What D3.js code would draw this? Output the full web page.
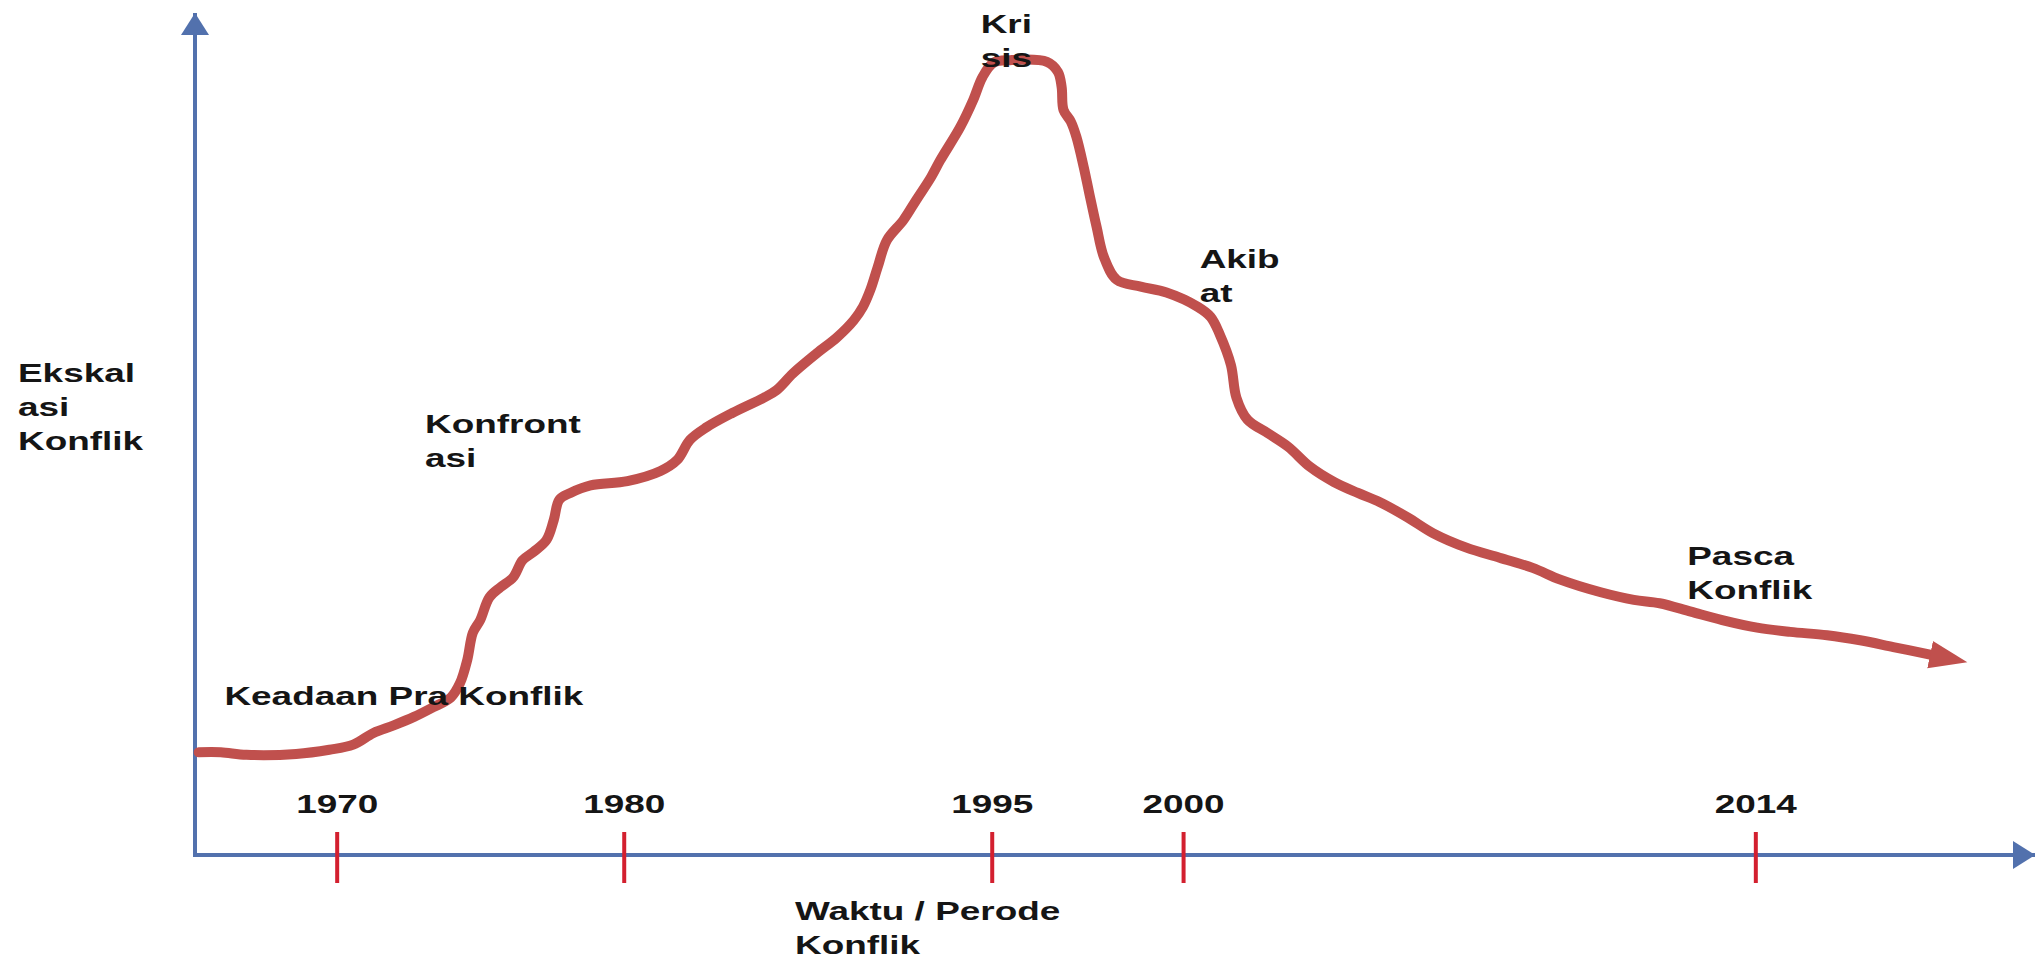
<!DOCTYPE html>
<html>
<head>
<meta charset="utf-8">
<script src="https://cdn.jsdelivr.net/npm/d3@7"></script>
<style>
  body { margin: 0; background: #fff; }
  svg  { display: block; font-family: "Liberation Sans", Arial, sans-serif; font-weight: bold; }
  .lbl { font-size: 26px; fill: #151515; }
</style>
</head>
<body>
<svg id="chart" width="2038" height="960"></svg>
<script>
// Position along the time axis (0 = origin, 100 = arrow tip)
var curveT = [0.2, 1.4, 2.8, 5.5, 7.3, 8.6, 9.7, 10.8, 11.9, 12.9, 13.9, 14.4, 14.8, 15.1, 15.5,
              16.0, 16.6, 17.3, 17.8, 18.4, 19.1, 19.5, 19.8, 20.4, 21.5, 23.5, 25.3, 26.2, 26.9,
              27.8, 29.2, 30.9, 31.6, 32.5, 33.8, 34.9, 35.8, 36.3, 36.7, 37.1, 37.6, 38.5, 39.2,
              40.0, 40.5, 41.6, 42.3, 42.8, 43.4, 44.3, 46.3, 46.9, 47.1, 47.2, 47.6, 47.9, 48.3,
              48.6, 49.0, 49.4, 50.1, 51.4, 52.8, 54.5, 55.2, 55.7, 56.3, 56.6, 57.2, 58.3, 59.4,
              60.6, 61.9, 63.2, 64.4, 65.9, 67.3, 69.1, 70.9, 72.7, 74.2, 76.4, 78.2, 79.6, 81.3,
              83.0, 84.9, 86.7, 88.7, 90.5, 92.3, 94.3]
// Escalation level (0 = x axis, 100 = arrow tip)
var curveE = [12.2, 12.2, 11.9, 12.0, 12.5, 13.1, 14.5, 15.4, 16.4, 17.5, 18.7, 20.4, 23.2, 26.4, 27.9,
              30.6, 31.8, 33.0, 35.0, 36.0, 37.4, 39.8, 42.2, 43.0, 43.9, 44.4, 45.6, 46.9, 49.3,
              50.8, 52.5, 54.3, 55.2, 57.2, 59.6, 61.5, 63.5, 65.1, 67.1, 69.8, 73.0, 75.4, 77.8,
              80.5, 82.5, 86.5, 89.7, 92.4, 94.1, 94.4, 94.2, 93.0, 91.2, 88.5, 87.1, 85.3, 81.7,
              78.6, 74.6, 71.0, 68.3, 67.5, 66.8, 65.1, 63.9, 61.8, 58.2, 54.3, 51.7, 50.1, 48.5,
              46.1, 44.3, 43.0, 41.9, 40.1, 38.2, 36.5, 35.3, 34.1, 32.7, 31.2, 30.3, 29.9, 28.9,
              27.9, 27.0, 26.5, 26.1, 25.5, 24.7, 23.8]

var tickYears = ["1970", "1980", "1995", "2000", "2014"]
var tickPos   = [7.7, 23.3, 43.3, 53.7, 84.8]

var phaseNames = [["Keadaan Pra Konflik"], ["Konfront", "asi"], ["Kri", "sis"], ["Akib", "at"], ["Pasca", "Konflik"]]
var phaseT     = [1.6, 12.5, 42.7, 54.6, 81.1]
var phaseE     = [17.8, 50.1, 97.6, 69.7, 34.4]

var yTitle = ["Ekskal", "asi", "Konflik"]
var xTitle = ["Waktu / Perode", "Konflik"]

var svg     = d3.select("#chart"),
    margin  = { top: 13, right: 3, bottom: 105, left: 195 },
    width   = +svg.attr("width"),
    height  = +svg.attr("height"),
    stretch = 1.42, // the picture's text is wide, stretch it horizontally
    lineGap = 34,
    blue    = "#5271ad",
    red     = "#d3202f",
    curveC  = "#c0504d"

var x = d3.scaleLinear().domain([0, 100]).range([margin.left, width - margin.right]),
    y = d3.scaleLinear().domain([0, 100]).range([height - margin.bottom, margin.top])

// Arrow heads
var defs = svg.append("defs")
defs.append("marker")
    .attr("id", "axisArrow")
    .attr("markerUnits", "userSpaceOnUse")
    .attr("viewBox", "-24 -15 26 30")
    .attr("markerWidth", 26)
    .attr("markerHeight", 30)
    .attr("refX", 0)
    .attr("refY", 0)
    .attr("orient", "auto")
    .append("path")
      .attr("d", "M-22,-14L0,0L-22,14Z")
      .attr("fill", blue)
defs.append("marker")
    .attr("id", "curveArrow")
    .attr("markerUnits", "userSpaceOnUse")
    .attr("viewBox", "0 -15 40 30")
    .attr("markerWidth", 40)
    .attr("markerHeight", 30)
    .attr("refX", 0)
    .attr("refY", 0)
    .attr("orient", "auto")
    .append("path")
      .attr("d", "M0,-14L38,0L0,14Z")
      .attr("fill", curveC)

// Multi-line label, stretched like the original
function label (g, lines, px, py, anchor) {
  var t = g.append("text")
           .attr("class", "lbl")
           .attr("text-anchor", anchor || "start")
           .attr("transform", "translate(" + px + "," + py + ") scale(" + stretch + ",1)")
  lines.forEach(function (s, i) {
    t.append("tspan").attr("x", 0).attr("dy", i ? lineGap : 0).text(s)
  })
}

// Axis lines
svg.append("line")
   .attr("x1", x(0)).attr("y1", y(0))
   .attr("x2", x(0)).attr("y2", y(100))
   .attr("stroke", blue).attr("stroke-width", 4)
   .attr("marker-end", "url(#axisArrow)")
svg.append("line")
   .attr("x1", x(0) - 2).attr("y1", y(0))
   .attr("x2", x(100)).attr("y2", y(0))
   .attr("stroke", blue).attr("stroke-width", 4)
   .attr("marker-end", "url(#axisArrow)")

// Year ticks
var xAxis = d3.axisBottom(x)
              .tickValues(tickPos)
              .tickFormat(function (d, i) { return tickYears[i] })
              .tickSizeOuter(0)
var gx = svg.append("g")
            .attr("class", "axis axis-x")
            .attr("transform", "translate(0," + y(0) + ")")
            .call(xAxis)
gx.select(".domain").remove()
gx.attr("font-size", null).attr("font-family", null)
gx.selectAll(".tick line")
  .attr("y1", -23)
  .attr("y2", 28)
  .attr("stroke", red)
  .attr("stroke-width", 4)
gx.selectAll(".tick text")
  .attr("class", "lbl")
  .attr("y", null)
  .attr("dy", null)
  .attr("fill", null)
  .attr("transform", "translate(0,-42) scale(" + stretch + ",1)")

// Escalation curve
var pts  = curveT.map(function (t, i) { return [t, curveE[i]] })
var line = d3.line()
             .x(function (d) { return x(d[0]) })
             .y(function (d) { return y(d[1]) })
             .curve(d3.curveCatmullRom.alpha(0.5))
svg.append("path")
   .datum(pts)
   .attr("d", line)
   .attr("fill", "none")
   .attr("stroke", curveC)
   .attr("stroke-width", 10)
   .attr("stroke-linecap", "round")
   .attr("stroke-linejoin", "round")
   .attr("marker-end", "url(#curveArrow)")

// Phase labels
var labels = svg.append("g")
phaseNames.forEach(function (lines, i) {
  label(labels, lines, x(phaseT[i]), y(phaseE[i]))
})

// Axis titles
label(labels, yTitle, 18, 382)
label(labels, xTitle, 795, 920)
</script>
</body>
</html>
